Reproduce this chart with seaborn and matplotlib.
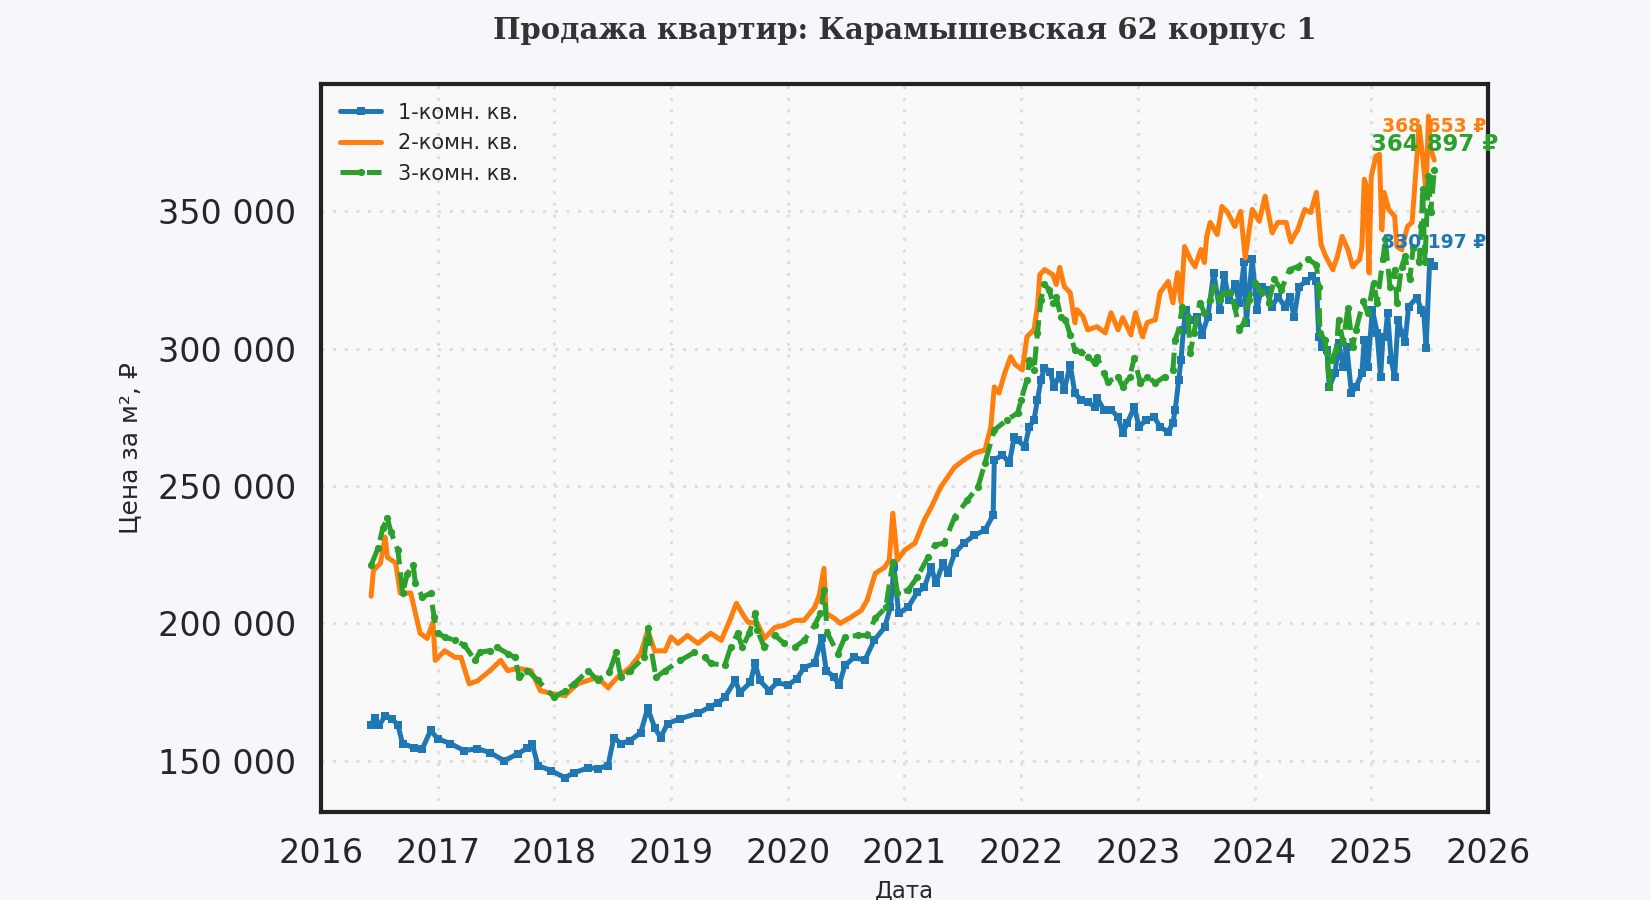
import matplotlib
matplotlib.use("Agg")
import numpy as np
import pandas as pd
import matplotlib.pyplot as plt
import seaborn as sns
from matplotlib.ticker import FuncFormatter, FixedLocator

TITLE = "Продажа квартир: Карамышевская 62 корпус 1"
X_LABEL = "Дата"
Y_LABEL = "Цена за м², ₽"
SERIES_NAMES = ["1-комн. кв.", "2-комн. кв.", "3-комн. кв."]
X_TICKS = list(range(2016, 2027))
Y_TICKS = [150000, 200000, 250000, 300000, 350000]

# 1-room: (decimal year, price in thousand rubles per m2)
room1_t = [2016.43, 2016.46, 2016.50, 2016.55, 2016.61, 2016.66, 2016.70, 2016.80, 2016.87, 2016.94,
           2017.00, 2017.11, 2017.23, 2017.34, 2017.45, 2017.57, 2017.69, 2017.77, 2017.81, 2017.86,
           2017.97, 2018.09, 2018.17, 2018.29, 2018.37, 2018.46, 2018.51, 2018.57, 2018.65, 2018.74,
           2018.80, 2018.86, 2018.91, 2018.97, 2019.08, 2019.23, 2019.33, 2019.40, 2019.46, 2019.55,
           2019.59, 2019.68, 2019.72, 2019.76, 2019.84, 2019.91, 2020.00, 2020.08, 2020.14, 2020.23,
           2020.29, 2020.33, 2020.40, 2020.44, 2020.49, 2020.57, 2020.66, 2020.74, 2020.83, 2020.88,
           2020.91, 2020.95, 2021.03, 2021.11, 2021.17, 2021.23, 2021.27, 2021.33, 2021.37, 2021.43,
           2021.51, 2021.60, 2021.69, 2021.76, 2021.77, 2021.84, 2021.90, 2021.94, 2021.97, 2022.03,
           2022.07, 2022.11, 2022.14, 2022.17, 2022.20, 2022.25, 2022.28, 2022.33, 2022.37, 2022.42,
           2022.46, 2022.51, 2022.57, 2022.63, 2022.65, 2022.71, 2022.77, 2022.83, 2022.87, 2022.91,
           2022.97, 2023.01, 2023.07, 2023.14, 2023.19, 2023.26, 2023.30, 2023.32, 2023.35, 2023.37,
           2023.39, 2023.41, 2023.45, 2023.51, 2023.55, 2023.60, 2023.65, 2023.70, 2023.74, 2023.78,
           2023.83, 2023.87, 2023.91, 2023.93, 2023.98, 2024.02, 2024.06, 2024.10, 2024.15, 2024.20,
           2024.26, 2024.30, 2024.34, 2024.38, 2024.44, 2024.49, 2024.53, 2024.55, 2024.58, 2024.62,
           2024.64, 2024.69, 2024.72, 2024.76, 2024.79, 2024.83, 2024.87, 2024.92, 2024.94, 2024.97,
           2025.01, 2025.05, 2025.08, 2025.10, 2025.12, 2025.14, 2025.17, 2025.20, 2025.23, 2025.26,
           2025.29, 2025.32, 2025.39, 2025.43, 2025.45, 2025.47, 2025.50, 2025.54]
room1_p = [162.8, 165.7, 162.8, 166.4, 165.3, 162.8, 156.2, 154.7, 154.4, 161.0,
           158.0, 156.2, 153.6, 154.4, 152.9, 150.0, 152.5, 154.7, 156.2, 148.2,
           146.4, 143.8, 145.6, 147.4, 147.1, 148.2, 158.4, 156.2, 157.3, 160.2,
           169.0, 162.0, 158.4, 163.5, 165.3, 167.2, 169.5, 171.0, 173.0, 179.2,
           174.8, 178.5, 185.4, 179.2, 175.5, 178.5, 177.4, 179.9, 183.9, 185.4,
           194.5, 182.8, 180.3, 177.4, 184.7, 187.6, 186.5, 193.8, 198.5, 205.8,
           220.4, 203.6, 205.8, 211.3, 213.1, 220.4, 214.6, 221.9, 218.2, 225.5,
           229.2, 232.1, 233.9, 239.4, 259.5, 261.3, 258.4, 267.9, 266.8, 264.2,
           271.5, 274.1, 281.4, 288.7, 293.1, 291.6, 286.1, 290.5, 285.0, 294.2,
           283.9, 281.4, 280.7, 278.8, 282.1, 277.7, 277.7, 275.2, 269.3, 273.0,
           278.8, 271.5, 274.1, 275.2, 271.5, 269.7, 273.0, 277.7, 288.7, 296.0,
           306.9, 314.2, 310.6, 311.7, 305.1, 311.7, 327.7, 314.2, 327.0, 317.9,
           323.4, 316.8, 331.4, 309.5, 332.5, 314.2, 322.6, 321.5, 315.3, 319.0,
           315.3, 319.0, 311.7, 322.6, 324.5, 326.3, 324.5, 304.4, 300.7, 299.6,
           286.1, 291.2, 302.2, 293.4, 300.7, 283.9, 286.1, 291.2, 303.3, 293.4,
           314.2, 305.8, 289.8, 304.4, 304.4, 313.1, 296.0, 289.8, 310.6, 305.8,
           302.6, 315.3, 318.6, 314.2, 313.1, 300.4, 331.4, 330.197]

# 2-room
room2_t = [2016.43, 2016.45, 2016.51, 2016.55, 2016.57, 2016.64, 2016.68, 2016.77, 2016.81, 2016.85,
           2016.91, 2016.96, 2016.98, 2017.06, 2017.15, 2017.20, 2017.27, 2017.34, 2017.45, 2017.54,
           2017.60, 2017.69, 2017.80, 2017.88, 2017.97, 2018.09, 2018.20, 2018.37, 2018.46, 2018.54,
           2018.65, 2018.74, 2018.80, 2018.86, 2018.95, 2019.00, 2019.06, 2019.14, 2019.23, 2019.34,
           2019.43, 2019.51, 2019.56, 2019.61, 2019.66, 2019.74, 2019.80, 2019.89, 2019.97, 2020.06,
           2020.14, 2020.23, 2020.27, 2020.31, 2020.33, 2020.40, 2020.45, 2020.54, 2020.63, 2020.68,
           2020.75, 2020.83, 2020.87, 2020.90, 2020.94, 2021.00, 2021.09, 2021.17, 2021.23, 2021.31,
           2021.43, 2021.51, 2021.60, 2021.69, 2021.74, 2021.77, 2021.81, 2021.86, 2021.91, 2021.95,
           2022.01, 2022.05, 2022.11, 2022.14, 2022.16, 2022.20, 2022.27, 2022.30, 2022.33, 2022.37,
           2022.42, 2022.46, 2022.48, 2022.53, 2022.57, 2022.65, 2022.72, 2022.77, 2022.83, 2022.87,
           2022.94, 2022.98, 2023.04, 2023.08, 2023.15, 2023.19, 2023.26, 2023.30, 2023.34, 2023.37,
           2023.40, 2023.45, 2023.49, 2023.54, 2023.57, 2023.59, 2023.62, 2023.68, 2023.72, 2023.77,
           2023.83, 2023.88, 2023.92, 2023.98, 2024.04, 2024.09, 2024.15, 2024.20, 2024.27, 2024.31,
           2024.37, 2024.43, 2024.48, 2024.53, 2024.57, 2024.61, 2024.67, 2024.71, 2024.75, 2024.80,
           2024.84, 2024.90, 2024.92, 2024.94, 2024.96, 2024.98, 2025.00, 2025.04, 2025.07, 2025.09,
           2025.11, 2025.15, 2025.20, 2025.22, 2025.26, 2025.31, 2025.35, 2025.41, 2025.44, 2025.47,
           2025.49, 2025.51, 2025.54]
room2_p = [209.9, 219.3, 221.9, 231.4, 224.0, 222.0, 211.0, 211.0, 203.6, 196.4,
           194.5, 200.4, 186.5, 190.0, 187.6, 187.6, 178.0, 179.0, 182.8, 186.5,
           182.8, 183.6, 182.8, 175.5, 174.5, 173.7, 178.0, 180.3, 176.6, 180.3,
           184.0, 189.0, 197.4, 190.0, 190.0, 195.0, 192.7, 195.6, 192.7, 196.4,
           193.8, 201.8, 207.3, 203.6, 200.4, 200.0, 194.5, 198.5, 199.3, 201.1,
           201.1, 205.8, 210.2, 220.0, 203.6, 201.8, 200.0, 202.2, 204.7, 208.4,
           218.2, 220.4, 223.0, 240.1, 223.0, 226.6, 229.2, 237.6, 242.3, 249.6,
           256.9, 259.5, 262.0, 263.1, 271.5, 286.1, 283.9, 291.2, 297.1, 294.2,
           292.3, 304.4, 306.9, 315.3, 327.0, 328.8, 327.0, 323.4, 329.6, 322.6,
           320.4, 309.5, 314.2, 311.7, 306.9, 308.0, 305.8, 313.1, 306.9, 311.3,
           305.1, 313.1, 304.4, 309.5, 310.6, 320.4, 324.5, 316.8, 327.7, 316.8,
           337.2, 332.5, 329.9, 336.1, 331.4, 340.9, 346.0, 341.6, 351.8, 349.6,
           344.5, 350.0, 333.2, 350.7, 346.4, 355.5, 342.3, 346.0, 346.0, 339.0,
           343.4, 350.7, 349.6, 356.9, 337.9, 333.6, 328.8, 333.6, 340.9, 336.1,
           329.9, 332.5, 337.2, 361.7, 359.1, 327.7, 362.8, 370.1, 370.8, 343.4,
           356.9, 350.7, 348.2, 337.2, 336.1, 344.5, 346.0, 381.0, 370.1, 356.9,
           384.7, 372.6, 368.653]

# 3-room
room3_t = [2016.43, 2016.49, 2016.53, 2016.57, 2016.60, 2016.66, 2016.70, 2016.74, 2016.79, 2016.81,
           2016.87, 2016.94, 2016.97, 2017.00, 2017.06, 2017.15, 2017.23, 2017.32, 2017.36, 2017.45,
           2017.51, 2017.60, 2017.66, 2017.70, 2017.77, 2017.86, 2018.00, 2018.09, 2018.17, 2018.29,
           2018.37, 2018.47, 2018.53, 2018.57, 2018.65, 2018.77, 2018.80, 2018.87, 2018.95, 2019.08,
           2019.20, 2019.29, 2019.34, 2019.46, 2019.51, 2019.57, 2019.61, 2019.67, 2019.72, 2019.74,
           2019.80, 2019.89, 2019.97, 2020.06, 2020.14, 2020.23, 2020.28, 2020.31, 2020.34, 2020.43,
           2020.49, 2020.60, 2020.68, 2020.75, 2020.84, 2020.90, 2020.94, 2021.03, 2021.11, 2021.20,
           2021.26, 2021.34, 2021.43, 2021.54, 2021.63, 2021.69, 2021.77, 2021.88, 2021.97, 2022.00,
           2022.05, 2022.07, 2022.11, 2022.14, 2022.17, 2022.20, 2022.24, 2022.27, 2022.30, 2022.34,
           2022.38, 2022.42, 2022.46, 2022.51, 2022.57, 2022.63, 2022.65, 2022.71, 2022.74, 2022.83,
           2022.87, 2022.93, 2022.97, 2023.02, 2023.08, 2023.15, 2023.23, 2023.30, 2023.32, 2023.35,
           2023.38, 2023.43, 2023.45, 2023.48, 2023.53, 2023.57, 2023.62, 2023.65, 2023.70, 2023.74,
           2023.79, 2023.83, 2023.87, 2023.91, 2023.95, 2024.00, 2024.06, 2024.12, 2024.17, 2024.23,
           2024.30, 2024.37, 2024.46, 2024.53, 2024.55, 2024.56, 2024.60, 2024.62, 2024.64, 2024.66,
           2024.70, 2024.72, 2024.76, 2024.80, 2024.84, 2024.87, 2024.93, 2024.97, 2025.02, 2025.05,
           2025.10, 2025.12, 2025.16, 2025.20, 2025.22, 2025.26, 2025.29, 2025.33, 2025.36, 2025.41,
           2025.43, 2025.44, 2025.46, 2025.49, 2025.51, 2025.54]
room3_p = [221.2, 227.4, 234.7, 238.3, 233.2, 226.6, 211.0, 218.0, 221.2, 214.6,
           209.5, 211.0, 202.2, 196.4, 195.0, 193.8, 192.0, 186.5, 189.4, 190.1,
           191.2, 189.0, 187.6, 180.3, 182.8, 179.2, 173.0, 175.5, 178.0, 182.8,
           179.2, 182.1, 189.4, 180.3, 182.8, 187.6, 198.2, 180.3, 182.8, 186.5,
           189.4, 187.6, 185.4, 184.7, 191.2, 196.4, 191.2, 196.4, 203.6, 197.4,
           191.2, 195.6, 192.7, 191.2, 193.8, 199.3, 203.6, 212.0, 196.4, 189.0,
           195.0, 195.6, 195.6, 201.8, 205.8, 222.3, 211.0, 212.0, 216.8, 224.0,
           228.5, 229.2, 238.7, 244.9, 249.6, 258.4, 270.4, 274.1, 276.6, 281.4,
           288.7, 296.0, 292.3, 305.8, 317.9, 323.4, 321.5, 316.8, 319.0, 311.7,
           310.6, 305.1, 299.6, 298.9, 297.1, 294.9, 297.1, 291.2, 287.9, 289.8,
           286.1, 289.8, 296.7, 287.6, 289.8, 287.6, 289.8, 292.3, 303.3, 306.9,
           315.3, 311.7, 298.5, 305.8, 316.8, 313.1, 317.9, 322.6, 317.9, 320.4,
           320.4, 315.3, 306.9, 309.5, 317.9, 324.1, 320.8, 316.8, 325.2, 321.5,
           328.8, 329.9, 332.5, 330.6, 322.6, 305.8, 303.3, 298.5, 286.1, 296.0,
           299.6, 310.6, 302.2, 315.0, 300.7, 306.9, 317.2, 313.1, 324.1, 316.8,
           332.5, 339.8, 322.6, 328.8, 316.8, 329.9, 333.6, 325.2, 337.2, 331.4,
           344.5, 358.0, 331.4, 362.8, 349.6, 364.897]

COLORS = ["#1f77b4", "#ff7f0e", "#2ca02c"]
MARKERS = ["s", ".", "o"]
LINESTYLES = ["-", "-", "--"]
LABEL_SIZES = [9, 9, 11]
LABEL_OFFSETS = [23, 34, 26]

sns.set_theme(style="whitegrid")
plt.rcParams["font.family"] = ["DejaVu Sans"]

fig, ax = plt.subplots(figsize=(11, 6), dpi=150)
fig.patch.set_facecolor("#f5f7fb")
ax.set_facecolor("#f9f9f9")
fig.subplots_adjust(left=0.1945, right=0.9018, top=0.9067, bottom=0.0978)

series = [(room1_t, room1_p), (room2_t, room2_p), (room3_t, room3_p)]
for i, (t, p) in enumerate(series):
    df = pd.DataFrame({"year": t, "price": np.asarray(p) * 1000})
    sns.lineplot(data=df, x="year", y="price", ax=ax, color=COLORS[i], linewidth=2.4,
                 linestyle=LINESTYLES[i], marker=MARKERS[i], markersize=3.5,
                 markeredgewidth=0, label=SERIES_NAMES[i], sort=False)
    last_t, last_v = t[-1], p[-1] * 1000
    ax.annotate(f"{last_v:,.0f} ₽".replace(",", " "), xy=(last_t, last_v),
                xytext=(0, LABEL_OFFSETS[i]), textcoords="offset pixels",
                ha="center", va="center", fontsize=LABEL_SIZES[i],
                fontweight="bold", color=COLORS[i])

ax.set_xlim(2016, 2026)
ax.set_ylim(131300, 396400)
ax.xaxis.set_major_locator(FixedLocator(X_TICKS))
ax.yaxis.set_major_locator(FixedLocator(Y_TICKS))
ax.xaxis.set_major_formatter(FuncFormatter(lambda v, pos: f"{int(round(v))}"))
ax.yaxis.set_major_formatter(FuncFormatter(lambda v, pos: f"{int(v):,}".replace(",", " ")))
ax.tick_params(axis="both", labelsize=16, length=0, pad=12, colors="#262626")

ax.grid(True, linestyle=(0, (1, 3)), linewidth=1.4, color="#dcdcdc")
for s in ax.spines.values():
    s.set_visible(True)
    s.set_color("#222222")
    s.set_linewidth(2)

ax.set_title(TITLE, fontsize=14, fontweight="bold", family="DejaVu Serif",
             color="#333333", pad=21.5)
ax.set_xlabel(X_LABEL, fontsize=11, color="#262626")
ax.set_ylabel(Y_LABEL, fontsize=12, color="#262626")
ax.xaxis.set_label_coords(0.5, -0.093)
ax.yaxis.set_label_coords(-0.153, 0.5)

leg = ax.legend(loc="upper left", frameon=False, fontsize=10)

fig.savefig("out.png", dpi=150, facecolor=fig.get_facecolor())
